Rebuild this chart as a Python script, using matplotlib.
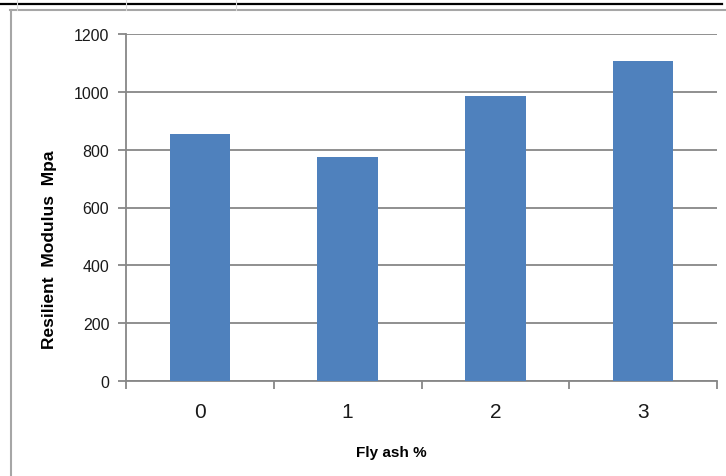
import matplotlib
matplotlib.use('Agg')
import matplotlib.pyplot as plt
from matplotlib.lines import Line2D

# Resilient modulus for each fly ash content
fly_ash = ['0', '1', '2', '3']
modulus = [854, 775, 985, 1107]

bar_color = '#4F81BD'
grid_color = '#878787'

plt.rcParams['font.family'] = ['Liberation Sans Narrow', 'Liberation Sans', 'DejaVu Sans']

fig = plt.figure(figsize=(7.26, 4.77), dpi=100)
W, H = 726, 477
ax = fig.add_axes([126 / W, 1 - 382 / H, (717 - 126) / W, (382 - 35) / H])

x = range(len(fly_ash))
ax.bar(x, modulus, width=0.41, color=bar_color, zorder=3)

ax.set_xlim(-0.5, len(fly_ash) - 0.5)
ax.set_ylim(0, 1200)
ax.set_yticks(range(0, 1201, 200))
ax.yaxis.grid(True, color=grid_color, linewidth=1.3, zorder=0)

# category labels centred, tick marks on the category borders
ax.set_xticks(list(x))
ax.set_xticklabels(fly_ash, fontsize=15, color='#1a1a1a')
ax.set_xticks([i - 0.5 for i in range(len(fly_ash) + 1)], minor=True)
ax.tick_params(axis='x', which='major', length=0, pad=15)
ax.tick_params(axis='x', which='minor', length=6, color=grid_color, width=1.3)
ax.tick_params(axis='y', length=6, color=grid_color, width=1.3, labelsize=11.5, pad=6,
               labelcolor='#1a1a1a')

for side in ['top', 'right']:
    ax.spines[side].set_visible(False)
for side in ['left', 'bottom']:
    ax.spines[side].set_color(grid_color)
    ax.spines[side].set_linewidth(1.3)

ax.set_ylabel('Resilient  Modulus  Mpa', fontsize=12.5, fontweight='bold')
ax.yaxis.set_label_coords(-0.1286, 0.38)
ax.set_xlabel('Fly ash %', fontsize=11, fontweight='bold')
ax.xaxis.set_label_coords((391 - 126) / 591, (382 - 453) / 347)
ax.xaxis.label.set_va('center')
ax.yaxis.label.set_va('center')

# outer frame lines of the chart area
fig.add_artist(Line2D([0, 722 / W], [1 - 5 / H, 1 - 5 / H], color='black', linewidth=1.6))
fig.add_artist(Line2D([10 / W, 1], [1 - 11 / H, 1 - 11 / H], color='#a6a6a6', linewidth=1.5))
fig.add_artist(Line2D([10.5 / W, 10.5 / W], [0, 1 - 11 / H], color='#a6a6a6', linewidth=1.5))
for xp in [17, 126, 236]:
    fig.add_artist(Line2D([xp / W, xp / W], [1 - 11 / H, 1], color='#d9d9d9', linewidth=0.8))

fig.savefig('out.png', dpi=100)
